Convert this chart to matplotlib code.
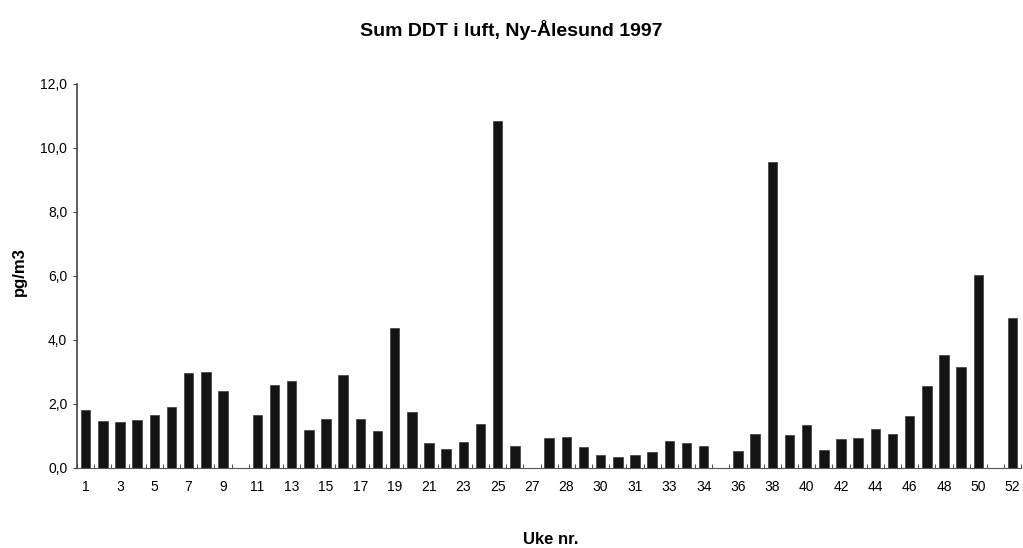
import matplotlib
matplotlib.use('Agg')
import matplotlib.pyplot as plt
import numpy as np

plt.rcParams['font.family'] = ['Liberation Sans', 'DejaVu Sans']

# One category per sample; label is the week number
weeks = ['1', '2', '3', '4', '5', '6', '7', '8', '9', '10',
         '11', '12', '13', '14', '15', '16', '17', '18', '19', '20',
         '21', '22', '23', '24', '25', '26', '27', '27', '28', '29',
         '30', '30', '31', '32', '33', '33', '34', '35', '36', '37',
         '38', '39', '40', '41', '42', '43', '44', '45', '46', '47',
         '48', '49', '50', '51', '52']
ddt = [1.82, 1.48, 1.44, 1.51, 1.64, 1.89, 2.96, 3.01, 2.39, np.nan,
       1.64, 2.60, 2.73, 1.19, 1.52, 2.90, 1.52, 1.16, 4.37, 1.76,
       0.77, 0.60, 0.81, 1.36, 10.82, 0.69, np.nan, 0.93, 0.97, 0.65,
       0.41, 0.33, 0.41, 0.50, 0.83, 0.78, 0.70, np.nan, 0.52, 1.07,
       9.54, 1.04, 1.34, 0.55, 0.89, 0.93, 1.22, 1.05, 1.61, 2.57,
       3.53, 3.15, 6.04, np.nan, 4.67]
yticks = [0, 2, 4, 6, 8, 10, 12]

fig = plt.figure(figsize=(10.23, 5.48), dpi=100)
ax = fig.add_axes([0.0753, 0.146, 0.923, 0.7013])

x = np.arange(len(weeks))
ax.bar(x, ddt, width=0.55, color='#141414', edgecolor='#3a3a3a', linewidth=0.5)

ax.set_xlim(-0.5, len(weeks) - 0.5)
ax.set_ylim(0, 12)

# every second category labelled, tick marks between categories
ax.set_xticks(x[::2])
ax.set_xticklabels(weeks[::2], fontsize=10)
ax.tick_params(axis='x', which='major', length=0, pad=9)
ax.set_xticks(np.arange(-0.5, len(weeks), 1), minor=True)
ax.tick_params(axis='x', which='minor', direction='in', length=3,
               color='#555555', width=0.8)

ax.set_yticks(yticks)
ax.set_yticklabels([f'{v:.1f}'.replace('.', ',') for v in yticks], fontsize=10)
ax.tick_params(axis='y', direction='out', length=3, color='#444444', pad=4)

for side in ['top', 'right']:
    ax.spines[side].set_visible(False)
ax.spines['left'].set_color('#444444')
ax.spines['bottom'].set_color('#555555')
ax.spines['left'].set_linewidth(1.2)

fig.text(0.5, 0.945, 'Sum DDT i luft, Ny-Ålesund 1997', ha='center', va='center',
         fontsize=14, fontweight='bold')
fig.text(0.019, 0.505, 'pg/m3', rotation=90, ha='center', va='center',
         fontsize=12, fontweight='bold')
fig.text(0.538, 0.015, 'Uke nr.', ha='center', va='center',
         fontsize=12, fontweight='bold')

fig.savefig('out.png', dpi=100)
